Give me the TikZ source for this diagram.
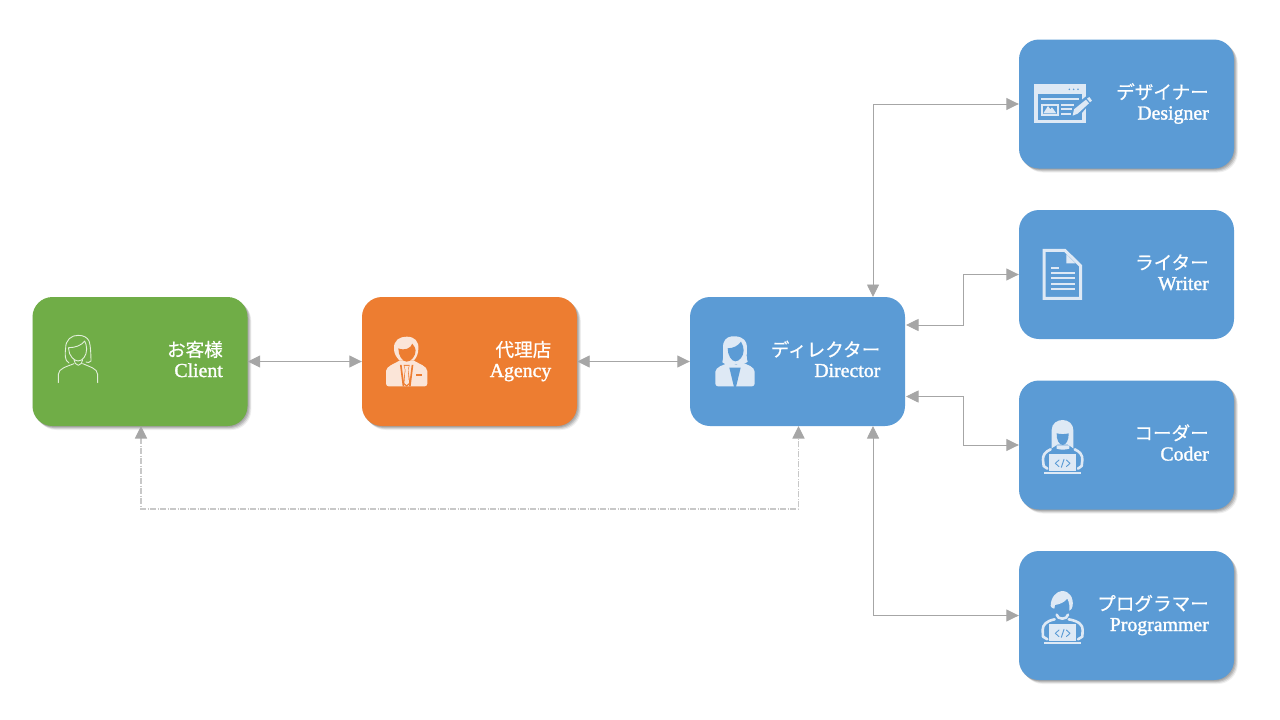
\documentclass[tikz,border=0pt]{standalone}
\usepackage{fontspec}
\setmainfont{Liberation Serif}
\newfontfamily\latfont[RawFeature={embolden=1.5}]{Liberation Serif}
\newfontfamily\jpfont[RawFeature={embolden=0.5}]{Noto Sans CJK JP}
\usetikzlibrary{arrows.meta,shadows,calc}
\definecolor{cgreen}{HTML}{70AD47}
\definecolor{corange}{HTML}{ED7D31}
\definecolor{cblue}{HTML}{5B9BD5}
\definecolor{cline}{HTML}{A6A6A6}
\definecolor{cdash}{HTML}{C8C8C8}
\definecolor{iblue}{HTML}{DEE9F5}
\definecolor{iorange}{HTML}{FBE5D8}
\definecolor{igreen}{HTML}{E2EFDA}
\tikzset{
  softshadow/.style={
    drop shadow={shadow xshift=0pt,shadow yshift=-.5pt,fill=black,opacity=.08},
    drop shadow={shadow xshift=1pt,shadow yshift=-1.2pt,fill=black,opacity=.10},
    drop shadow={shadow xshift=2pt,shadow yshift=-2pt,fill=black,opacity=.12},
    drop shadow={shadow xshift=3pt,shadow yshift=-3pt,fill=black,opacity=.10},
    drop shadow={shadow xshift=3.8pt,shadow yshift=-4pt,fill=black,opacity=.06}},
  box/.style={rectangle,rounded corners=20pt,minimum width=215pt,minimum height=129pt,inner sep=0pt,draw=none},
  lbl/.style={anchor=east,align=right,text=white,inner sep=0pt,font=\latfont\fontsize{19.8}{20.5}\selectfont},
  conn/.style={draw=cline,line width=.9pt,{Triangle[length=12.5pt,width=12pt,color=cline]}-{Triangle[length=12.5pt,width=12pt,color=cline]}},
  connd/.style={draw=cdash,line width=1.2pt,dash pattern=on 6pt off 1.5pt on 1pt off 1.5pt,{Triangle[length=12.5pt,width=12pt,color=cline]}-{Triangle[length=12.5pt,width=12pt,color=cline]}},
  zoomed/.style={x=.3333pt,y=-.3333pt},
  arm/.style={iblue,line width=2.6pt,line join=round,line cap=round},
  code/.style={cblue,line width=.9pt,line join=round,line cap=round}
}
\newcommand{\lblt}[2]{{\jpfont\fontsize{18.6}{20.5}\selectfont\rule{0pt}{16pt}#1}\\{\rule[-5pt]{0pt}{5pt}#2}}
\begin{document}
\begin{tikzpicture}[x=1pt,y=-1pt]
\useasboundingbox (0,0) rectangle (1280,720);
\node[box,fill=cgreen,softshadow] (client) at (140,361.5) {};
\node[box,fill=corange,softshadow] (agency) at (469.5,361.5) {};
\node[box,fill=cblue] (director) at (797.5,361.5) {};
\node[box,fill=cblue,softshadow] (designer) at (1126.5,104) {};
\node[box,fill=cblue] (writer) at (1126.5,274.5) {};
\node[box,fill=cblue,softshadow] (coder) at (1126.5,445) {};
\node[box,fill=cblue,softshadow] (programmer) at (1126.5,615.5) {};

\node[lbl] (clientt) at (223,361.25) {\lblt{お客様}{Client}};
\node[lbl] (agencyt) at (551.5,361.25) {\lblt{代理店}{Agency}};
\node[lbl] (directort) at (880.5,361.25) {\lblt{ディレクター}{Director}};
\node[lbl] (designert) at (1209,103.75) {\lblt{デザイナー}{Designer}};
\node[lbl] (writert) at (1209,274.25) {\lblt{ライター}{Writer}};
\node[lbl] (codert) at (1209,444.75) {\lblt{コーダー}{Coder}};
\node[lbl] (programmert) at (1209,615.25) {\lblt{プログラマー}{Programmer}};

\coordinate (dtop) at (873,297);
\coordinate (dbot) at (873,426);
\coordinate (dr1) at (906,325);
\coordinate (dr2) at (906,396.5);
\coordinate (cbot) at (141,426);
\coordinate (dbotc) at (798.5,426);
\coordinate (m1) at (963,325);
\coordinate (m2) at (963,396.5);
\coordinate (dashy) at (400,509);

\draw[conn] (client.east) -- (agency.west);
\draw[conn] (agency.east) -- (director.west);
\draw[conn] (dtop) |- (designer.west);
\draw[conn] (dr1) -- (m1) |- (writer.west);
\draw[conn] (dr2) -- (m2) |- (coder.west);
\draw[conn] (dbot) |- (programmer.west);
\draw[connd] (cbot) |- (dashy) -| (dbotc);

% client icon
\begin{scope}[shift={(20,285)},zoomed,draw=igreen,line width=.9pt,line cap=round,line join=round]
\draw (147,234) .. controls (133,228) and (135,205) .. (137,190) .. controls (136,165) and (155,150) .. (175,151) .. controls (192,151) and (202,158) .. (207,168) .. controls (212,180) and (213,215) .. (213,228) .. controls (209,233) and (203,234) .. (198,231);
\draw (146,192) .. controls (146,212) and (163,228) .. (174,228) .. controls (188,228) and (200,212) .. (200,192) .. controls (200,182) and (197,174) .. (194,168) .. controls (184,182) and (165,188) .. (146,188) -- (146,192);
\draw (162,224) .. controls (162,232) and (168,240) .. (175,241) .. controls (182,240) and (188,232) .. (188,224);
\draw (115,293) -- (115,268) .. controls (116,250) and (140,245) .. (162,236);
\draw (233,293) -- (233,268) .. controls (232,250) and (208,245) .. (188,236);
\end{scope}

% agency icon
\begin{scope}[shift={(350,285)},zoomed]
\fill[iorange] (108,296) -- (108,258) .. controls (110,243) and (130,238) .. (150,226) -- (190,226) .. controls (210,238) and (230,243) .. (232,258) -- (232,296) .. controls (232,301) and (228,304) .. (224,304) -- (116,304) .. controls (112,304) and (108,301) .. (108,296) -- cycle;
\fill[corange] (150,240) -- (155,240) -- (163,304) -- (158,304) -- cycle;
\fill[corange] (190,240) -- (185,240) -- (177,304) -- (182,304) -- cycle;
\fill[corange] (161,240) -- (179,240) -- (175,255) -- (181,296) -- (170,305) -- (159,296) -- (165,255) -- cycle;
\fill[iorange] (163.5,243) -- (176.5,243) -- (173.5,254) -- (177,294) -- (170,300) -- (163,294) -- (166.5,254) -- cycle;
\fill[iorange] (132,192) .. controls (130,165) and (150,155) .. (170,155) .. controls (195,155) and (207,170) .. (205,192) .. controls (205,205) and (200,218) .. (192,226) -- (148,226) .. controls (138,215) and (132,205) .. (132,192) -- cycle;
\fill[corange] (145,190) .. controls (165,198) and (182,190) .. (187,176) .. controls (193,185) and (197,190) .. (197,196) .. controls (197,214) and (183,230) .. (170,230) .. controls (157,230) and (145,212) .. (145,190) -- cycle;
\fill[corange] (198,267) rectangle (216,272);
\end{scope}

% director icon
\begin{scope}[shift={(680,285)},zoomed]
\fill[iblue] (106,296) -- (106,260) .. controls (108,245) and (130,240) .. (150,232) -- (168,240) -- (184,232) .. controls (205,240) and (222,245) .. (224,260) -- (224,296) .. controls (224,301) and (220,304) .. (216,304) -- (114,304) .. controls (110,304) and (106,301) .. (106,296) -- cycle;
\fill[cblue] (148,248) -- (182,248) -- (168,306) -- (162,306) -- cycle;
\fill[iblue] (127,232) .. controls (133,215) and (127,190) .. (130,175) .. controls (135,158) and (150,152) .. (167,154) .. controls (190,156) and (200,168) .. (201,185) .. controls (201,205) and (198,220) .. (203,230) .. controls (195,238) and (180,240) .. (170,238) .. controls (155,242) and (135,240) .. (127,232) -- cycle;
\fill[cblue] (143,190) .. controls (160,190) and (175,182) .. (183,170) .. controls (188,178) and (191,188) .. (191,196) .. controls (191,214) and (178,229) .. (166,229) .. controls (154,229) and (143,210) .. (143,190) -- cycle;
\end{scope}

% designer icon
\begin{scope}[shift={(1010,30)},zoomed]
\fill[iblue] (73,163) rectangle (227,280);
\fill[cblue] (85,193) rectangle (215,270);
\fill[cblue] (178,178) circle (2.6) (191,178) circle (2.6) (204,178) circle (2.6);
\fill[iblue] (92,203) rectangle (208,209);
\fill[iblue] (92,221) rectangle (146,257);
\fill[cblue] (98,227) rectangle (141,251);
\fill[iblue] (100,250) -- (114,228) -- (121,238) -- (126,232) -- (139,250) -- cycle;
\fill[iblue] (152,221) rectangle (193,227);
\fill[iblue] (152,235) rectangle (186,241);
\fill[iblue] (152,248) rectangle (182,254);
\fill[cblue] (182,262) -- (188,232) -- (232,196) -- (250,208) -- (208,258) -- cycle;
\fill[iblue] (188,257) -- (192,238) -- (228,209) -- (237,220) -- (203,251) -- cycle;
\fill[iblue] (231,206) -- (238,201) -- (246,212) -- (240,217) -- cycle;
\end{scope}

% writer icon
\begin{scope}[shift={(1010,200)},zoomed]
\draw[iblue,line width=3pt,line join=miter] (102.5,151.5) -- (165,151.5) -- (211.5,197) -- (211.5,295.5) -- (102.5,295.5) -- cycle;
\fill[iblue] (169,163) -- (169,190) -- (196,190) -- cycle;
\fill[iblue] (122,202) rectangle (146,208);
\fill[iblue] (122,217) rectangle (194,223);
\fill[iblue] (122,232) rectangle (194,238);
\fill[iblue] (122,248) rectangle (194,254);
\fill[iblue] (122,263) rectangle (194,269);
\end{scope}

% coder icon
\begin{scope}[shift={(1010,370)},zoomed]
\draw[arm] (122,238) .. controls (106,245) and (98,255) .. (99,270) -- (101,288) -- (112,296);
\draw[arm] (194,238) .. controls (210,245) and (218,255) .. (217,270) -- (215,288) -- (204,296);
\fill[iblue] (140,226) -- (178,226) -- (178,236) .. controls (165,240) and (150,240) .. (140,236) -- cycle;
\fill[iblue] (125,235) -- (125,180) .. controls (125,160) and (142,150) .. (158,150) .. controls (175,150) and (190,162) .. (190,180) -- (190,235) -- (174,224) -- (142,224) -- cycle;
\fill[cblue] (140,190) .. controls (152,193) and (165,193) .. (176,190) .. controls (177,210) and (168,225) .. (158,225) .. controls (148,225) and (139,210) .. (140,190) -- cycle;
\fill[iblue] (118,252) rectangle (198,304);
\fill[iblue] (103,305) rectangle (213,311);
\draw[code] (147,270) -- (136,280) -- (147,290);
\draw[code] (169,270) -- (180,280) -- (169,290);
\draw[code] (162,268) -- (154,292);
\end{scope}

% programmer icon
\begin{scope}[shift={(1010,540)},zoomed]
\draw[arm] (134,238) .. controls (108,243) and (98,255) .. (98,270) -- (99,290) -- (112,298);
\draw[arm] (176,238) .. controls (206,243) and (219,255) .. (218,270) -- (217,290) -- (204,298);
\draw[arm] (140,224) .. controls (142,240) and (172,240) .. (174,224);
\fill[iblue] (122,198) .. controls (122,172) and (140,153) .. (156,153) .. controls (178,153) and (191,172) .. (188,198) .. controls (187,205) and (183,210) .. (178,212) -- (178,195) .. controls (177,188) and (175,182) .. (172,176) .. controls (162,188) and (148,193) .. (135,195) -- (133,206) .. controls (128,206) and (124,203) .. (122,198) -- cycle;
\fill[iblue] (118,252) rectangle (198,304);
\fill[iblue] (103,305) rectangle (213,311);
\draw[code] (147,270) -- (136,280) -- (147,290);
\draw[code] (169,270) -- (180,280) -- (169,290);
\draw[code] (162,268) -- (154,292);
\end{scope}
\end{tikzpicture}
\end{document}
